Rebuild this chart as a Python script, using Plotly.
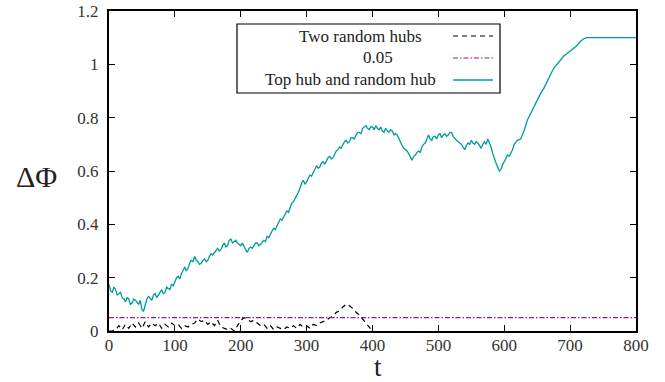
import plotly.graph_objects as go

# Time grid for the top-hub curve: fine steps over the noisy part, then coarser
t_top = [i * 2.5 for i in range(249)] + list(range(625, 730, 5)) + [800]
phi_top = [
    0.175, 0.15, 0.145, 0.165, 0.155, 0.135, 0.14, 0.145, 0.125, 0.12,
    0.11, 0.125, 0.12, 0.10, 0.105, 0.12, 0.115, 0.105, 0.10, 0.115,
    0.08, 0.075, 0.10, 0.12, 0.13, 0.12, 0.115, 0.135, 0.14, 0.125,
    0.135, 0.15, 0.155, 0.14, 0.145, 0.165, 0.16, 0.155, 0.175, 0.17,
    0.185, 0.20, 0.205, 0.195, 0.215, 0.23, 0.24, 0.225, 0.235, 0.255,
    0.265, 0.26, 0.28, 0.265, 0.26, 0.25, 0.255, 0.265, 0.27, 0.26,
    0.265, 0.28, 0.29, 0.285, 0.295, 0.305, 0.31, 0.30, 0.305, 0.32,
    0.33, 0.315, 0.32, 0.34, 0.345, 0.33, 0.335, 0.34, 0.33, 0.325,
    0.32, 0.33, 0.315, 0.305, 0.295, 0.31, 0.315, 0.31, 0.32, 0.33,
    0.33, 0.32, 0.325, 0.335, 0.34, 0.335, 0.355, 0.35, 0.365, 0.375,
    0.385, 0.38, 0.395, 0.41, 0.42, 0.415, 0.425, 0.44, 0.45, 0.445,
    0.465, 0.48, 0.485, 0.495, 0.51, 0.52, 0.535, 0.555, 0.565, 0.55,
    0.56, 0.575, 0.585, 0.58, 0.595, 0.61, 0.62, 0.61, 0.615, 0.63,
    0.635, 0.625, 0.64, 0.65, 0.655, 0.645, 0.65, 0.665, 0.675, 0.68,
    0.69, 0.685, 0.70, 0.71, 0.715, 0.705, 0.71, 0.725, 0.725, 0.72,
    0.735, 0.745, 0.745, 0.74, 0.76, 0.765, 0.77, 0.76, 0.755, 0.765,
    0.765, 0.755, 0.77, 0.76, 0.755, 0.765, 0.75, 0.745, 0.76, 0.75,
    0.745, 0.755, 0.75, 0.735, 0.74, 0.735, 0.72, 0.705, 0.695, 0.685,
    0.68, 0.675, 0.665, 0.655, 0.64, 0.655, 0.66, 0.67, 0.675, 0.67,
    0.69, 0.70, 0.705, 0.72, 0.735, 0.72, 0.715, 0.73, 0.73, 0.72,
    0.735, 0.74, 0.725, 0.735, 0.74, 0.73, 0.735, 0.745, 0.745, 0.73,
    0.72, 0.715, 0.71, 0.705, 0.70, 0.69, 0.68, 0.695, 0.705, 0.70,
    0.715, 0.705, 0.70, 0.71, 0.705, 0.695, 0.685, 0.70, 0.71, 0.70,
    0.72, 0.705, 0.69, 0.665, 0.645, 0.63, 0.615, 0.60, 0.605, 0.625,
    0.635, 0.645, 0.66, 0.655, 0.665, 0.68, 0.70, 0.71, 0.715,
    0.72, 0.75, 0.79, 0.815, 0.84, 0.87, 0.89, 0.91, 0.935, 0.96,
    0.985, 1.0, 1.015, 1.03, 1.04, 1.05, 1.06, 1.07, 1.085, 1.095,
    1.10, 1.10,
]

t_two = list(range(0, 405, 5))
phi_two = [
    0.0, 0.0, 0.005, 0.02, 0.005, 0.025, 0.01, 0.03, 0.015, 0.03,
    0.01, 0.035, 0.015, 0.03, 0.02, 0.03, 0.01, 0.025, 0.015, 0.03,
    0.02, 0.025, 0.01, 0.02, 0.015, 0.025, 0.03, 0.045, 0.035, 0.04,
    0.025, 0.035, 0.02, 0.04, 0.015, 0.01, 0.005, 0.01, 0.0, 0.02,
    0.04, 0.05, 0.045, 0.035, 0.04, 0.03, 0.02, 0.025, 0.01, 0.02,
    0.005, 0.015, 0.01, 0.005, 0.015, 0.01, 0.02, 0.01, 0.025, 0.015,
    0.02, 0.01, 0.025, 0.02, 0.03, 0.035, 0.04, 0.05, 0.055, 0.07,
    0.075, 0.09, 0.10, 0.095, 0.085, 0.07, 0.06, 0.045, 0.03, 0.015,
    0.0,
]

threshold = 0.05
t_range = [0, 800]

names = ["Two random hubs", "0.05", "Top hub and random hub"]
colors = ["black", "#8e1f8c", "#009a9a"]
dashes = ["5px,4px", "5px,2px,1.5px,2px", "solid"]
widths = [1.2, 1.2, 1.3]

FONT = "Liberation Serif, Times New Roman, serif"

fig = go.Figure()
fig.add_trace(go.Scatter(x=t_two, y=phi_two, mode="lines", name=names[0],
                         line=dict(color=colors[0], dash=dashes[0], width=widths[0])))
fig.add_trace(go.Scatter(x=t_range, y=[threshold, threshold], mode="lines", name=names[1],
                         line=dict(color=colors[1], dash=dashes[1], width=widths[1])))
fig.add_trace(go.Scatter(x=t_top, y=phi_top, mode="lines", name=names[2],
                         line=dict(color=colors[2], dash=dashes[2], width=widths[2])))

W, H = 665, 382
ml, mr, mt, mb = 109, 29, 11, 51
pw, ph = W - ml - mr, H - mt - mb


def px_x(px):
    return (px - ml) / pw


def px_y(py):
    return (H - mb - py) / ph


# Legend box with text on the left and line samples on the right
shapes = [dict(type="rect", xref="paper", yref="paper",
               x0=px_x(237), x1=px_x(500), y0=px_y(93), y1=px_y(24),
               line=dict(color="black", width=1.2), fillcolor="white", layer="above")]
annotations = []
rows_y = [36, 58, 80]
text_cx = [360, 378, 350]
for name, col, dsh, wd, ry, cx in zip(names, colors, dashes, widths, rows_y, text_cx):
    annotations.append(dict(text=name, xref="paper", yref="paper",
                            x=px_x(cx), y=px_y(ry), xanchor="center", yanchor="middle",
                            showarrow=False, font=dict(family=FONT, size=17, color="#222")))
    shapes.append(dict(type="line", xref="paper", yref="paper",
                       x0=px_x(453), x1=px_x(493), y0=px_y(ry), y1=px_y(ry),
                       line=dict(color=col, dash=dsh, width=wd), layer="above"))

annotations.append(dict(text="ΔΦ", xref="paper", yref="paper",
                        x=px_x(36), y=px_y(176), xanchor="center", yanchor="middle",
                        showarrow=False, font=dict(family=FONT, size=30, color="#222")))
annotations.append(dict(text="t", xref="paper", yref="paper",
                        x=px_x(378), y=px_y(367), xanchor="center", yanchor="middle",
                        showarrow=False, font=dict(family=FONT, size=27, color="#222")))

axis_common = dict(showgrid=False, zeroline=False, showline=True, linecolor="black",
                   linewidth=2, mirror="ticks", ticks="inside", ticklen=6,
                   tickcolor="black", tickwidth=1.2, automargin=False,
                   tickfont=dict(family=FONT, size=17, color="#333"))

fig.update_layout(
    width=W, height=H,
    margin=dict(l=ml, r=mr, t=mt, b=mb),
    paper_bgcolor="white", plot_bgcolor="white",
    font=dict(family=FONT),
    showlegend=False,
    shapes=shapes, annotations=annotations,
    xaxis=dict(range=t_range, tickvals=list(range(0, 801, 100)), ticklabelstandoff=-2, **axis_common),
    yaxis=dict(range=[0, 1.2], tickvals=[0, 0.2, 0.4, 0.6, 0.8, 1.0, 1.2], ticklabelstandoff=5, **axis_common),
)

fig.write_html("out.html")
